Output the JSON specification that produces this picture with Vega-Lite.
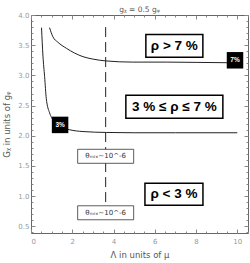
{
  "$schema": "https://vega.github.io/schema/vega-lite/v6.json",
  "autosize": "none",
  "padding": {"left": 31, "top": 15, "right": 2, "bottom": 30},
  "width": 217,
  "height": 218,
  "background": "white",
  "config": {
    "view": {"stroke": "#666", "strokeWidth": 1},
    "font": "Liberation Sans",
    "axis": {"domain": false, "grid": false, "labelColor": "#999", "labelFontSize": 7, "labelFont": "DejaVu Sans", "tickColor": "#888", "titleColor": "#555", "titleFontWeight": "normal", "titleFont": "DejaVu Sans", "titleFontSize": 8.5}
  },
  "title": {"text": "gᵪ = 0.5 gᵩ", "fontSize": 7.5, "font": "DejaVu Sans", "fontWeight": "normal", "color": "#555", "offset": 0, "dy": 2.5},
  "datasets": {
    "curves": [
      {"lam": 0.90, "G": 3.79, "curve": "7%"},
      {"lam": 1.06, "G": 3.64, "curve": "7%"},
      {"lam": 1.30, "G": 3.55, "curve": "7%"},
      {"lam": 1.71, "G": 3.45, "curve": "7%"},
      {"lam": 2.11, "G": 3.37, "curve": "7%"},
      {"lam": 2.52, "G": 3.31, "curve": "7%"},
      {"lam": 3.00, "G": 3.27, "curve": "7%"},
      {"lam": 3.62, "G": 3.24, "curve": "7%"},
      {"lam": 4.93, "G": 3.22, "curve": "7%"},
      {"lam": 6.58, "G": 3.22, "curve": "7%"},
      {"lam": 9.50, "G": 3.21, "curve": "7%"},
      {"lam": 10.0, "G": 3.21, "curve": "7%"},
      {"lam": 0.51, "G": 3.79, "curve": "3%"},
      {"lam": 0.58, "G": 3.32, "curve": "3%"},
      {"lam": 0.66, "G": 2.98, "curve": "3%"},
      {"lam": 0.74, "G": 2.62, "curve": "3%"},
      {"lam": 0.90, "G": 2.38, "curve": "3%"},
      {"lam": 1.00, "G": 2.30, "curve": "3%"},
      {"lam": 1.20, "G": 2.21, "curve": "3%"},
      {"lam": 1.50, "G": 2.14, "curve": "3%"},
      {"lam": 1.87, "G": 2.10, "curve": "3%"},
      {"lam": 2.52, "G": 2.07, "curve": "3%"},
      {"lam": 3.65, "G": 2.055, "curve": "3%"},
      {"lam": 5.00, "G": 2.05, "curve": "3%"},
      {"lam": 7.00, "G": 2.05, "curve": "3%"},
      {"lam": 10.0, "G": 2.05, "curve": "3%"}
    ],
    "vline": [{"lam": 3.62, "G": 3.8, "G2": 0.8}],
    "regions": [
      {"lam": 6.95, "G": 3.49, "label": "ρ > 7 %", "kind": "a"},
      {"lam": 6.95, "G": 2.48, "label": "3 % ≤ ρ ≤ 7 %", "kind": "b"},
      {"lam": 6.93, "G": 1.03, "label": "ρ < 3 %", "kind": "c"}
    ],
    "theta": [
      {"lam": 3.62, "G": 1.66, "label": "θₘᵢₓ~10^-6"},
      {"lam": 3.62, "G": 0.725, "label": "θₘᵢₓ~10^-6"}
    ],
    "tags": [
      {"lam": 1.41, "G": 2.18, "label": "3%"},
      {"lam": 9.89, "G": 3.25, "label": "7%"}
    ]
  },
  "resolve": {"axis": {"x": "independent", "y": "independent"}},
  "layer": [
    {
      "data": {"name": "curves"},
      "mark": {"type": "line", "color": "#222", "strokeWidth": 1, "interpolate": "monotone"},
      "encoding": {
        "x": {"field": "lam", "type": "quantitative", "scale": {"domain": [0, 10.52], "nice": false, "zero": false},
              "axis": {"orient": "bottom", "values": [0, 2, 4, 6, 8, 10], "tickSize": -4, "labelPadding": 8, "title": "Λ in units of μ", "titlePadding": 6}},
        "y": {"field": "G", "type": "quantitative", "scale": {"domain": [0.39, 4.0], "nice": false, "zero": false},
              "axis": {"orient": "left", "values": [0.5, 1.0, 1.5, 2.0, 2.5, 3.0, 3.5, 4.0], "format": ".1f", "tickSize": -4, "labelPadding": 6, "title": "Gᵪ in units of gᵩ", "titlePadding": 6}},
        "detail": {"field": "curve"}
      }
    },
    {
      "data": {"name": "curves"},
      "mark": {"type": "point", "opacity": 0},
      "encoding": {
        "x": {"field": "lam", "type": "quantitative", "axis": {"orient": "bottom", "values": [0.5,1,1.5,2.5,3,3.5,4.5,5,5.5,6.5,7,7.5,8.5,9,9.5,10.5], "tickSize": -2, "labels": false, "title": null}},
        "y": {"field": "G", "type": "quantitative", "axis": {"orient": "left", "values": [0.4,0.6,0.7,0.8,0.9,1.1,1.2,1.3,1.4,1.6,1.7,1.8,1.9,2.1,2.2,2.3,2.4,2.6,2.7,2.8,2.9,3.1,3.2,3.3,3.4,3.6,3.7,3.8,3.9], "tickSize": -2, "labels": false, "title": null}}
      }
    },
    {
      "data": {"name": "curves"},
      "mark": {"type": "point", "opacity": 0},
      "encoding": {
        "x": {"field": "lam", "type": "quantitative", "axis": {"orient": "top", "values": [0, 2, 4, 6, 8, 10], "tickSize": -4, "labels": false, "title": null}},
        "y": {"field": "G", "type": "quantitative", "axis": {"orient": "right", "values": [0.5, 1.0, 1.5, 2.0, 2.5, 3.0, 3.5, 4.0], "tickSize": -4, "labels": false, "title": null}}
      }
    },
    {
      "data": {"name": "curves"},
      "mark": {"type": "point", "opacity": 0},
      "encoding": {
        "x": {"field": "lam", "type": "quantitative", "axis": {"orient": "top", "values": [0.5,1,1.5,2.5,3,3.5,4.5,5,5.5,6.5,7,7.5,8.5,9,9.5,10.5], "tickSize": -2, "labels": false, "title": null}},
        "y": {"field": "G", "type": "quantitative", "axis": {"orient": "right", "values": [0.4,0.6,0.7,0.8,0.9,1.1,1.2,1.3,1.4,1.6,1.7,1.8,1.9,2.1,2.2,2.3,2.4,2.6,2.7,2.8,2.9,3.1,3.2,3.3,3.4,3.6,3.7,3.8,3.9], "tickSize": -2, "labels": false, "title": null}}
      }
    },
    {
      "data": {"name": "vline"},
      "mark": {"type": "rule", "color": "#222", "strokeWidth": 1, "strokeDash": [10, 5]},
      "encoding": {
        "x": {"field": "lam", "type": "quantitative", "axis": null},
        "y": {"field": "G", "type": "quantitative", "axis": null},
        "y2": {"field": "G2"}
      }
    },
    {
      "data": {"name": "regions"},
      "transform": [{"filter": "datum.kind == 'a'"}],
      "mark": {"type": "point", "shape": "M-1,-0.4L1,-0.4L1,0.4L-1,0.4Z", "size": 3249, "filled": true, "fill": "white", "stroke": "black", "strokeWidth": 1.5, "opacity": 1},
      "encoding": {"x": {"field": "lam", "type": "quantitative", "axis": null}, "y": {"field": "G", "type": "quantitative", "axis": null}}
    },
    {
      "data": {"name": "regions"},
      "transform": [{"filter": "datum.kind == 'b'"}],
      "mark": {"type": "point", "shape": "M-1,-0.237L1,-0.237L1,0.237L-1,0.237Z", "size": 9409, "filled": true, "fill": "white", "stroke": "black", "strokeWidth": 1.5, "opacity": 1},
      "encoding": {"x": {"field": "lam", "type": "quantitative", "axis": null}, "y": {"field": "G", "type": "quantitative", "axis": null}}
    },
    {
      "data": {"name": "regions"},
      "transform": [{"filter": "datum.kind == 'c'"}],
      "mark": {"type": "point", "shape": "M-1,-0.38L1,-0.38L1,0.38L-1,0.38Z", "size": 3364, "filled": true, "fill": "white", "stroke": "black", "strokeWidth": 1.5, "opacity": 1},
      "encoding": {"x": {"field": "lam", "type": "quantitative", "axis": null}, "y": {"field": "G", "type": "quantitative", "axis": null}}
    },
    {
      "data": {"name": "regions"},
      "mark": {"type": "text", "fontSize": 13.5, "fontWeight": "bold", "font": "Liberation Sans", "color": "black", "baseline": "middle", "align": "center"},
      "encoding": {"x": {"field": "lam", "type": "quantitative", "axis": null}, "y": {"field": "G", "type": "quantitative", "axis": null}, "text": {"field": "label"}}
    },
    {
      "data": {"name": "theta"},
      "mark": {"type": "point", "shape": "M-1,-0.25L1,-0.25L1,0.25L-1,0.25Z", "size": 3136, "filled": true, "fill": "white", "stroke": "#333", "strokeWidth": 0.8, "opacity": 1},
      "encoding": {"x": {"field": "lam", "type": "quantitative", "axis": null}, "y": {"field": "G", "type": "quantitative", "axis": null}}
    },
    {
      "data": {"name": "theta"},
      "mark": {"type": "text", "fontSize": 7, "font": "DejaVu Sans", "color": "#333", "baseline": "middle", "align": "center"},
      "encoding": {"x": {"field": "lam", "type": "quantitative", "axis": null}, "y": {"field": "G", "type": "quantitative", "axis": null}, "text": {"field": "label"}}
    },
    {
      "data": {"name": "tags"},
      "mark": {"type": "point", "shape": "square", "size": 272, "filled": true, "color": "black", "opacity": 1},
      "encoding": {"x": {"field": "lam", "type": "quantitative", "axis": null}, "y": {"field": "G", "type": "quantitative", "axis": null}}
    },
    {
      "data": {"name": "tags"},
      "mark": {"type": "text", "fontSize": 6.5, "fontWeight": "bold", "font": "Liberation Sans", "color": "white", "baseline": "middle", "align": "center"},
      "encoding": {"x": {"field": "lam", "type": "quantitative", "axis": null}, "y": {"field": "G", "type": "quantitative", "axis": null}, "text": {"field": "label"}}
    }
  ]
}
